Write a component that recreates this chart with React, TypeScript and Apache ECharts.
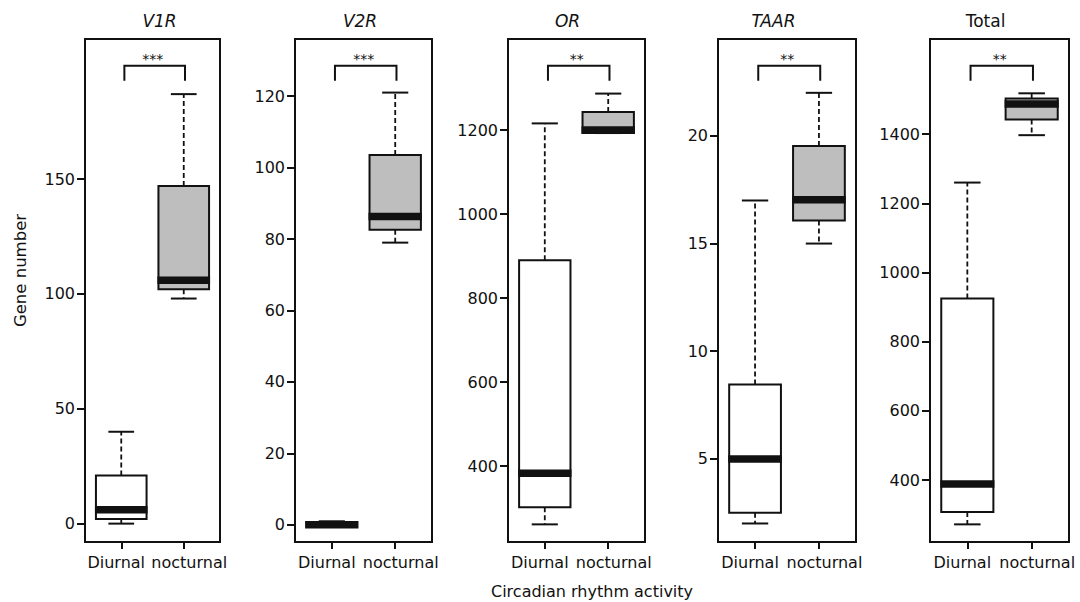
import React, { useEffect, useRef } from "react";
import * as echarts from "echarts";

// ---------- data ----------
const panelNames = ["V1R", "V2R", "OR", "TAAR", "Total"];
const categories = ["Diurnal", "nocturnal"];
// [min, Q1, median, Q3, max]
const v1rDiurnal = [0, 2, 6, 21, 40];
const v1rNocturnal = [98, 102, 106, 147, 187];
const v2rDiurnal = [0, 0, 0, 0, 1];
const v2rNocturnal = [79, 82.6, 86.3, 103.5, 121];
const orDiurnal = [261, 302, 383, 890, 1216];
const orNocturnal = [1193, 1193, 1200, 1243, 1287];
const taarDiurnal = [2, 2.5, 5, 8.45, 17];
const taarNocturnal = [15, 16.07, 17.03, 19.53, 22];
const totalDiurnal = [272, 308, 389, 925, 1260];
const totalNocturnal = [1397, 1442, 1487, 1503, 1518];
const significance = ["***", "***", "**", "**", "**"];
const v1rTicks = [0, 50, 100, 150];
const v2rTicks = [0, 20, 40, 60, 80, 100, 120];
const orTicks = [400, 600, 800, 1000, 1200];
const taarTicks = [5, 10, 15, 20];
const totalTicks = [400, 600, 800, 1000, 1200, 1400];

const panelData = [
  [v1rDiurnal, v1rNocturnal],
  [v2rDiurnal, v2rNocturnal],
  [orDiurnal, orNocturnal],
  [taarDiurnal, taarNocturnal],
  [totalDiurnal, totalNocturnal],
];
const panelTicks = [v1rTicks, v2rTicks, orTicks, taarTicks, totalTicks];

// ---------- layout ----------
const gridLefts = [85, 295, 508, 718, 930];
const gridWidths = [135, 137, 137, 138, 139];
const gridTop = 39;
const gridHeight = 503;
const yRanges: [number, number][] = [
  [-8, 211],
  [-4.8, 136],
  [219, 1417],
  [1.14, 24.5],
  [221, 1675],
];
const titleX = [159.5, 360, 567.5, 773.5, 985.5];
const FONT = "DejaVu Sans";
const INK = "#111";

const BOX_HALF = 0.405;
const CAP_HALF = 0.206;
const MEDIAN_THICK = 7.5;

function renderBox(params: any, api: any) {
  const x = api.value(0);
  const lo = api.value(1);
  const q1 = api.value(2);
  const med = api.value(3);
  const q3 = api.value(4);
  const hi = api.value(5);
  const fill = x === 0 ? "#ffffff" : "#bebebe";
  const pTL = api.coord([x - BOX_HALF, q3]);
  const pBR = api.coord([x + BOX_HALF, q1]);
  const pHi = api.coord([x, hi]);
  const pLo = api.coord([x, lo]);
  const pQ3 = api.coord([x, q3]);
  const pQ1 = api.coord([x, q1]);
  const capL = api.coord([x - CAP_HALF, hi])[0];
  const capR = api.coord([x + CAP_HALF, hi])[0];
  const pMed = api.coord([x, med]);
  const dash = { stroke: INK, lineWidth: 1.8, lineDash: [5, 3] };
  const solid = { stroke: INK, lineWidth: 2 };
  return {
    type: "group",
    children: [
      { type: "line", shape: { x1: pQ3[0], y1: pQ3[1], x2: pHi[0], y2: pHi[1] }, style: dash },
      { type: "line", shape: { x1: pQ1[0], y1: pQ1[1], x2: pLo[0], y2: pLo[1] }, style: dash },
      { type: "line", shape: { x1: capL, y1: pHi[1], x2: capR, y2: pHi[1] }, style: solid },
      { type: "line", shape: { x1: capL, y1: pLo[1], x2: capR, y2: pLo[1] }, style: solid },
      {
        type: "rect",
        shape: { x: pTL[0], y: pTL[1], width: pBR[0] - pTL[0], height: pBR[1] - pTL[1] },
        style: { fill, stroke: INK, lineWidth: 2 },
      },
      {
        type: "rect",
        shape: { x: pTL[0] - 1, y: pMed[1] - MEDIAN_THICK / 2, width: pBR[0] - pTL[0] + 2, height: MEDIAN_THICK },
        style: { fill: INK },
      },
    ],
  };
}

function makeBracketRenderer(idx: number) {
  return function (params: any, api: any) {
    const yTop = params.coordSys.y + 26.7;
    const yLeg = params.coordSys.y + 41.7;
    const base = yRanges[idx][0];
    const xl = api.coord([0.05, base])[0];
    const xr = api.coord([1.02, base])[0];
    return {
      type: "group",
      children: [
        {
          type: "polyline",
          shape: { points: [[xl, yLeg], [xl, yTop], [xr, yTop], [xr, yLeg]] },
          style: { stroke: INK, lineWidth: 2, fill: null },
        },
        {
          type: "text",
          style: {
            text: significance[idx],
            x: (xl + xr) / 2 - 2,
            y: params.coordSys.y + 27,
            textAlign: "center",
            textVerticalAlign: "bottom",
            font: `14px '${FONT}'`,
            fill: INK,
          },
        },
      ],
    };
  };
}

export default function App() {
  const ref = useRef<HTMLDivElement>(null);
  useEffect(() => {
    if (!ref.current) return;
    const chart = echarts.init(ref.current, null, { renderer: "svg" });
    const grids = panelNames.map((_, i) => ({
      left: gridLefts[i],
      top: gridTop,
      width: gridWidths[i],
      height: gridHeight,
      show: true,
      borderColor: INK,
      borderWidth: 2,
      backgroundColor: "transparent",
    }));
    const xAxes = panelNames.map((_, i) => ({
      type: "value",
      gridIndex: i,
      min: -0.58,
      max: 1.58,
      splitLine: { show: false },
      axisLine: { show: true, onZero: false, lineStyle: { color: INK, width: 2 } },
      axisTick: { show: true, customValues: [0, 1], length: 7, lineStyle: { color: INK, width: 2 } },
      axisLabel: {
        show: true,
        customValues: [0, 1],
        margin: 12,
        formatter: (v: number) => (v < 0.5 ? `{l|${categories[0]}}` : `{r|${categories[1]}}`),
        rich: {
          l: { fontFamily: FONT, fontSize: 16, color: INK, padding: [0, 10, 0, 0] },
          r: { fontFamily: FONT, fontSize: 16, color: INK, padding: [0, 0, 0, 11] },
        },
      },
    }));
    const yAxes = panelNames.map((_, i) => ({
      type: "value",
      gridIndex: i,
      min: yRanges[i][0],
      max: yRanges[i][1],
      splitLine: { show: false },
      axisLine: { show: true, onZero: false, lineStyle: { color: INK, width: 2 } },
      axisTick: { show: true, customValues: panelTicks[i], length: 8, lineStyle: { color: INK, width: 2 } },
      axisLabel: {
        show: true,
        customValues: panelTicks[i],
        margin: 10,
        fontFamily: FONT,
        fontSize: 16,
        color: INK,
        formatter: (v: number) => String(v),
      },
    }));
    const series: any[] = [];
    panelNames.forEach((name, i) => {
      series.push({
        type: "custom",
        name,
        xAxisIndex: i,
        yAxisIndex: i,
        renderItem: renderBox,
        encode: { x: 0, y: [1, 2, 3, 4, 5] },
        data: panelData[i].map((d, c) => [c, ...d]),
        clip: false,
      });
      series.push({
        type: "custom",
        name: name + "-sig",
        xAxisIndex: i,
        yAxisIndex: i,
        renderItem: makeBracketRenderer(i),
        data: [[0, yRanges[i][0]]],
        clip: false,
      });
    });
    const graphic: any[] = [
      ...panelNames.map((name, i) => ({
        type: "text",
        x: titleX[i],
        y: 21,
        style: {
          text: name,
          textAlign: "center",
          textVerticalAlign: "middle",
          font: `${i < 4 ? "italic " : ""}17px '${FONT}'`,
          fill: INK,
        },
      })),
      {
        type: "text",
        x: 20,
        y: 270.5,
        rotation: Math.PI / 2,
        style: {
          text: "Gene number",
          textAlign: "center",
          textVerticalAlign: "middle",
          font: `16.5px '${FONT}'`,
          fill: INK,
        },
      },
      {
        type: "text",
        x: 592,
        y: 591,
        style: {
          text: "Circadian rhythm activity",
          textAlign: "center",
          textVerticalAlign: "middle",
          font: `16px '${FONT}'`,
          fill: INK,
        },
      },
    ];
    chart.setOption({
      animation: false,
      backgroundColor: "#ffffff",
      grid: grids,
      xAxis: xAxes,
      yAxis: yAxes,
      series,
      graphic,
    });
    return () => chart.dispose();
  }, []);
  return (
    <div
      ref={ref}
      style={{ position: "fixed", left: 0, top: 0, width: 1080, height: 602, background: "#fff" }}
    />
  );
}
